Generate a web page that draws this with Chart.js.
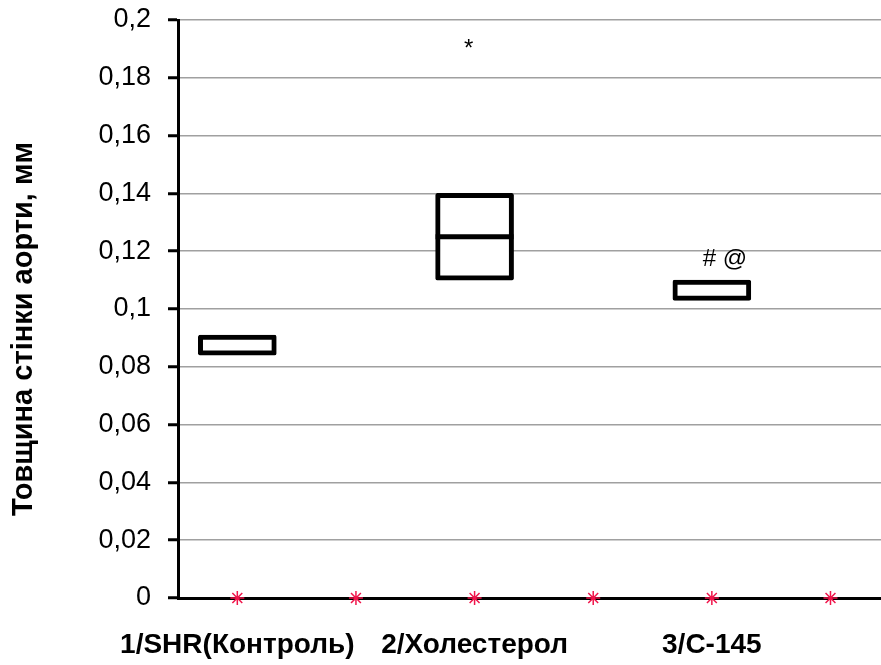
<!DOCTYPE html>
<html>
<head>
<meta charset="utf-8">
<script src="https://cdn.jsdelivr.net/npm/chart.js@4"></script>
<style>
  html, body { margin: 0; padding: 0; background: #fff; overflow: hidden; }
</style>
</head>
<body>
<canvas id="chart" width="890" height="665"></canvas>
<script>
// data
const groups = ['1/SHR(Контроль)', '2/Холестерол', '3/С-145'];
const groupPos = [1, 3, 5];
const boxLow = [0.084, 0.11, 0.103];
const boxHigh = [0.091, 0.14, 0.11];
const boxMid = [null, 0.125, null];
const markerPos = [1, 2, 3, 4, 5, 6];
const markerVal = [0, 0, 0, 0, 0, 0];
const notes = [
  { x: 2.95, y: 0.19, text: '*' },
  { x: 5.11, y: 0.117, text: '# @' }
];

const FONT = '"Liberation Sans", Arial, sans-serif';

// median lines + significance marks
const extras = {
  id: 'extras',
  afterDatasetsDraw(chart) {
    const ctx = chart.ctx;
    const xs = chart.scales.x, ys = chart.scales.y;
    const meta = chart.getDatasetMeta(0);
    ctx.save();
    ctx.strokeStyle = '#000';
    ctx.lineWidth = 5;
    boxMid.forEach((m, i) => {
      if (m == null) return;
      const bar = meta.data[i];
      const y = ys.getPixelForValue(m);
      ctx.beginPath();
      ctx.moveTo(bar.x - bar.width / 2, y);
      ctx.lineTo(bar.x + bar.width / 2, y);
      ctx.stroke();
    });
    ctx.fillStyle = '#000';
    ctx.font = '24px ' + FONT;
    ctx.textAlign = 'center';
    ctx.textBaseline = 'middle';
    notes.forEach(n => {
      ctx.fillText(n.text, xs.getPixelForValue(n.x), ys.getPixelForValue(n.y));
    });
    ctx.restore();
  }
};

const noPad = s => {
  s.paddingTop = 0; s.paddingBottom = 0; s.paddingLeft = 0; s.paddingRight = 0;
};

new Chart(document.getElementById('chart'), {
  data: {
    datasets: [
      {
        type: 'bar',
        data: groupPos.map((x, i) => ({ x: x, y: [boxLow[i], boxHigh[i]] })),
        backgroundColor: '#fff',
        borderColor: '#000',
        borderWidth: 5,
        borderSkipped: false,
        borderRadius: 2,
        barThickness: 78
      },
      {
        type: 'scatter',
        data: markerPos.map((x, i) => ({ x: x, y: markerVal[i] })),
        pointStyle: 'star',
        radius: 7,
        borderColor: '#f0144a',
        borderWidth: 1.5,
        clip: false
      }
    ]
  },
  options: {
    responsive: false,
    animation: false,
    layout: { padding: { top: 20, right: 0, left: 0, bottom: 0 } },
    plugins: { legend: { display: false }, tooltip: { enabled: false } },
    scales: {
      x: {
        type: 'linear',
        offset: false,
        min: 0.5,
        max: 6.43,
        afterBuildTicks: s => { s.ticks = groupPos.map(v => ({ value: v })); },
        afterFit: s => { s.height = 67; noPad(s); },
        ticks: {
          callback: v => groups[groupPos.indexOf(v)],
          color: '#000',
          font: { family: FONT, size: 28, weight: 'bold' },
          padding: 30,
          maxRotation: 0,
          autoSkip: false
        },
        grid: { drawOnChartArea: false, drawTicks: false },
        border: { display: true, color: '#000', width: 3 }
      },
      y: {
        min: 0,
        max: 0.2,
        afterFit: s => { s.width = 178; noPad(s); },
        ticks: {
          stepSize: 0.02,
          color: '#000',
          font: { family: FONT, size: 27 },
          padding: 17,
          callback: v => String(parseFloat(v.toFixed(2))).replace('.', ',')
        },
        grid: { color: '#a0a0a0', lineWidth: 1.5, tickColor: '#000', tickLength: 10, tickWidth: 3 },
        border: { display: true, color: '#000', width: 3 },
        title: {
          display: true,
          text: 'Товщина стінки аорти, мм     ',
          color: '#000',
          font: { family: FONT, size: 29, weight: 'bold' },
          padding: { top: 7, bottom: 0 }
        }
      }
    }
  },
  plugins: [extras]
});
</script>
</body>
</html>
